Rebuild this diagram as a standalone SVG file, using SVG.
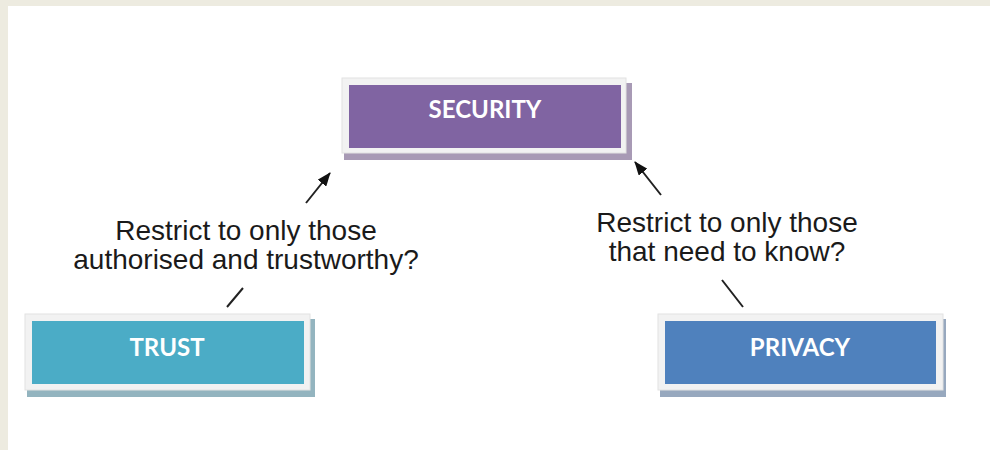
<svg xmlns="http://www.w3.org/2000/svg" width="990" height="450" viewBox="0 0 990 450">
  <defs>
    <style>
      .frame { fill: #EDEBE0; }
      .bezel { fill: #F2F2F2; stroke: #E2E2E2; stroke-width: 1; }
      .label { font-family: Lato, "Open Sans", "Liberation Sans", sans-serif; font-weight: bold; font-size: 24px; fill: #FFFFFF; text-anchor: middle; }
      .note { font-family: "Liberation Sans", Arial, sans-serif; font-size: 28px; fill: #1A1A1A; text-anchor: middle; }
      .link { fill: none; stroke: #222222; stroke-width: 2; }
    </style>
    <marker id="head" viewBox="0 0 14 11" refX="13" refY="5.5" markerWidth="14" markerHeight="11" markerUnits="userSpaceOnUse" orient="auto">
      <path d="M0,0 L14,5.5 L0,11 Z" fill="#111111"/>
    </marker>
  </defs>

  <!-- page background with beige margin -->
  <rect x="0" y="0" width="990" height="450" fill="#FFFFFF"/>
  <rect class="frame" x="0" y="0" width="990" height="6"/>
  <rect class="frame" x="0" y="0" width="8" height="450"/>

  <!-- connectors: each arrow is split around its question text -->
  <g id="connectors">
    <path class="link" d="M227,307 L243,288 M306,203 L330,173" marker-end="url(#head)"/>
    <path class="link" d="M743,307 L722,280 M661,195 L635,162" marker-end="url(#head)"/>
    <text class="note" x="246" y="240">Restrict to only those</text>
    <text class="note" x="246" y="269">authorised and trustworthy?</text>
    <text class="note" x="727" y="232">Restrict to only those</text>
    <text class="note" x="727" y="261">that need to know?</text>
  </g>

  <g id="security">
    <rect x="344" y="83" width="288" height="77" fill="#A89AB5"/>
    <rect class="bezel" x="342" y="78" width="284" height="75"/>
    <rect x="349" y="85" width="272" height="63" fill="#8064A2"/>
    <text class="label" x="485" y="118">SECURITY</text>
  </g>

  <g id="trust">
    <rect x="27" y="319" width="288" height="78" fill="#93B4BF"/>
    <rect class="bezel" x="25" y="314" width="285" height="76"/>
    <rect x="32" y="321" width="272" height="63" fill="#4BACC6"/>
    <text class="label" x="167" y="356">TRUST</text>
  </g>

  <g id="privacy">
    <rect x="660" y="319" width="286" height="78" fill="#97A8BE"/>
    <rect class="bezel" x="658" y="314" width="285" height="76"/>
    <rect x="665" y="321" width="271" height="63" fill="#4F81BD"/>
    <text class="label" x="800" y="356">PRIVACY</text>
  </g>
</svg>
